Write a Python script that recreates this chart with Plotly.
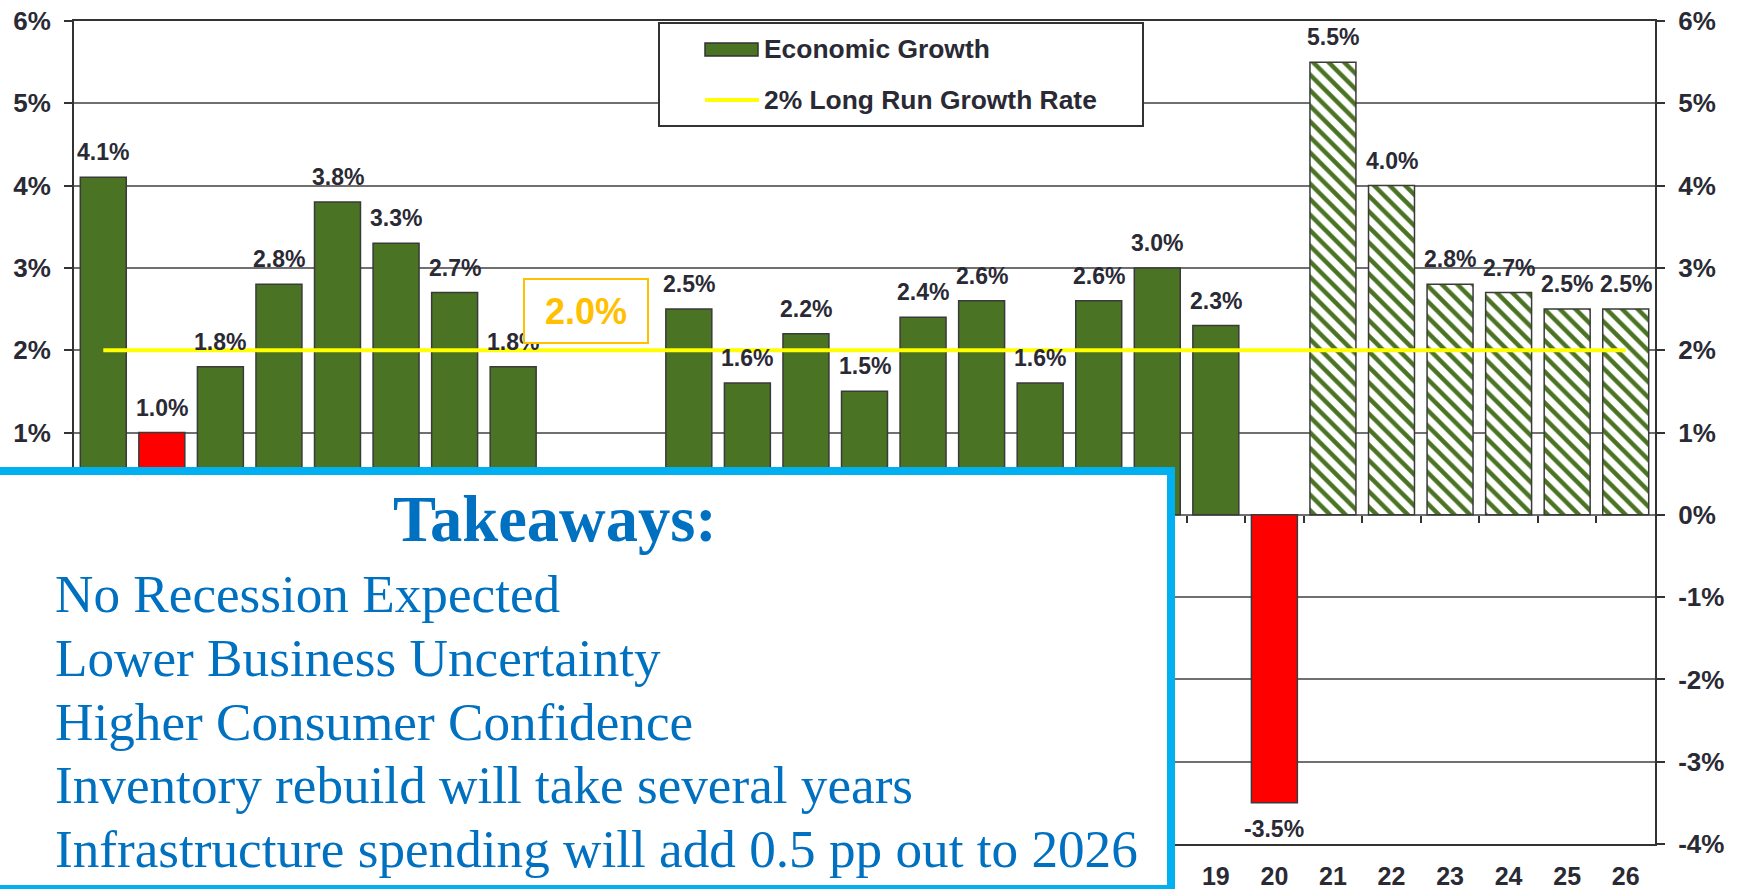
import plotly.graph_objects as go

# ---------------- data ----------------
years = ["00", "01", "02", "03", "04", "05", "06", "07", "08", "09",
         "10", "11", "12", "13", "14", "15", "16", "17", "18", "19",
         "20", "21", "22", "23", "24", "25", "26"]
growth = [4.1, 1.0, 1.8, 2.8, 3.8, 3.3, 2.7, 1.8, -0.1, -2.5,
          2.5, 1.6, 2.2, 1.5, 2.4, 2.6, 1.6, 2.6, 3.0, 2.3,
          -3.5, 5.5, 4.0, 2.8, 2.7, 2.5, 2.5]
recession_years = ["01", "08", "09", "20"]
forecast_years = ["21", "22", "23", "24", "25", "26"]
long_run_x = ["00", "26"]
long_run_y = [2.0, 2.0]
y_ticks = [-4, -3, -2, -1, 0, 1, 2, 3, 4, 5, 6]
y_tick_text = ["-4%", "-3%", "-2%", "-1%", "0%", "1%", "2%", "3%", "4%", "5%", "6%"]
takeaway_title = "Takeaways:"
takeaways = ["No Recession Expected",
             "Lower Business Uncertainty",
             "Higher Consumer Confidence",
             "Inventory rebuild will take several years",
             "Infrastructure spending will add 0.5 pp out to 2026"]

# ---------------- style ----------------
GREEN = "#4a7323"
RED = "#ff0000"
DARK = "#2a2a35"
W_FIG, H_FIG = 1737, 889
L, R, T, B = 74, 1655, 21, 844
PW, PH = R - L, B - T


def px(x):
    return (x - L) / PW


def py(y):
    return (B - y) / PH


act_x, act_y, act_c = [], [], []
fc_x, fc_y = [], []
for yr, v in zip(years, growth):
    if yr in forecast_years:
        fc_x.append(yr)
        fc_y.append(v)
    else:
        act_x.append(yr)
        act_y.append(v)
        act_c.append(RED if yr in recession_years else GREEN)

fig = go.Figure()
fig.add_trace(go.Bar(
    x=act_x, y=act_y, name="Economic Growth",
    marker=dict(color=act_c, line=dict(color="#3a3a3a", width=1.5)),
    showlegend=False,
))
fig.add_trace(go.Bar(
    x=fc_x, y=fc_y, name="Forecast",
    marker=dict(color="white", line=dict(color="#3a3a3a", width=1.5),
                pattern=dict(shape="\\", fgcolor=GREEN, bgcolor="white",
                             size=11, solidity=0.4)),
    showlegend=False,
))
fig.add_trace(go.Scatter(
    x=[years.index(v) for v in long_run_x], y=long_run_y, xaxis="x2", yaxis="y2",
    mode="lines", line=dict(color="#ffff00", width=4),
    name="2% Long Run Growth Rate", showlegend=False,
))

annotations = []
label_font = dict(family="Liberation Sans, Arial", size=23, color=DARK, weight="bold")
for yr, v in zip(years, growth):
    annotations.append(dict(
        x=yr, y=v, xref="x", yref="y", text=f"{v:.1f}%", showarrow=False,
        yanchor="bottom" if v >= 0 else "top", yshift=10 if v >= 0 else -11,
        font=label_font,
    ))

# 2.0% callout
annotations.append(dict(
    x=px(523), y=py(278), xref="paper", yref="paper", xanchor="left", yanchor="top",
    text="2.0%", showarrow=False, width=122, height=62, borderpad=0,
    bgcolor="white", bordercolor="#ffc000", borderwidth=2,
    font=dict(family="Liberation Sans, Arial", size=36, color="#ffc000", weight="bold"),
))

# takeaways box
annotations.append(dict(
    x=px(-20), y=py(467), xref="paper", yref="paper", xanchor="left", yanchor="top",
    text=" ", showarrow=False, width=1179, height=410, borderpad=0,
    bgcolor="white", bordercolor="#00b0f0", borderwidth=8,
))
annotations.append(dict(
    x=px(555), y=py(519), xref="paper", yref="paper", xanchor="center", yanchor="middle",
    text=takeaway_title, showarrow=False,
    font=dict(family="Liberation Serif, Times New Roman, serif", size=64.5,
              color="#0070c0", weight="bold"),
))
for i, line in enumerate(takeaways):
    annotations.append(dict(
        x=px(53), y=py(594.6 + 63.7 * i), xref="paper", yref="paper",
        xanchor="left", yanchor="middle", text=line, showarrow=False,
        font=dict(family="Liberation Serif, Times New Roman, serif", size=53.2,
                  color="#0070c0"),
    ))

# legend (drawn manually)
legend_font = dict(family="Liberation Sans, Arial", size=26.4, color=DARK, weight="bold")
annotations.append(dict(x=px(762), y=py(49), xref="paper", yref="paper",
                        xanchor="left", yanchor="middle", text="Economic Growth",
                        showarrow=False, font=legend_font))
annotations.append(dict(x=px(762), y=py(100), xref="paper", yref="paper",
                        xanchor="left", yanchor="middle", text="2% Long Run Growth Rate",
                        showarrow=False, font=legend_font))
shapes = [
    dict(type="rect", xref="paper", yref="paper", x0=px(659), x1=px(1143),
         y0=py(126), y1=py(23), fillcolor="white", line=dict(color="#333", width=2),
         layer="above"),
    dict(type="rect", xref="paper", yref="paper", x0=px(705), x1=px(758),
         y0=py(56), y1=py(43), fillcolor=GREEN, line=dict(color="#333", width=1.5),
         layer="above"),
    dict(type="line", xref="paper", yref="paper", x0=px(705), x1=px(759),
         y0=py(100), y1=py(100), line=dict(color="#ffff00", width=4), layer="above"),
]

y_tick_font = dict(family="Liberation Sans, Arial", size=26, color=DARK, weight="bold")
x_tick_font = dict(family="Liberation Sans, Arial", size=25, color=DARK, weight="bold")


def y_axis(**extra):
    d = dict(range=[-4, 6], autorange=False, tickmode="array", tickvals=y_ticks,
             ticktext=y_tick_text, ticks="outside", ticklen=8, tickcolor="#333",
             tickwidth=1.5, showline=True, linecolor="#333", linewidth=2,
             tickfont=y_tick_font, zeroline=False, automargin=False,
             ticklabelstandoff=8)
    d.update(extra)
    return d


fig.update_layout(
    template="none",
    width=W_FIG, height=H_FIG,
    margin=dict(l=L, r=W_FIG - R, t=T, b=H_FIG - B, pad=0),
    paper_bgcolor="white", plot_bgcolor="white",
    barmode="overlay", bargap=0.215, showlegend=False,
    xaxis=dict(type="category", categoryorder="array", categoryarray=years,
               range=[-0.5, len(years) - 0.5], autorange=False,
               showline=True, mirror=True, linecolor="#333",
               linewidth=2, ticks="", tickfont=x_tick_font, showgrid=False,
               zeroline=False, automargin=False, ticklabelstandoff=9),
    xaxis2=dict(range=[-0.5, len(years) - 0.5], autorange=False, overlaying="x",
                anchor="free", position=0.4, side="bottom", showline=False,
                showgrid=False, zeroline=False, showticklabels=False,
                tickmode="array", tickvals=[i + 0.5 for i in range(len(years) - 1)],
                ticks="outside", ticklen=7, tickcolor="#333", tickwidth=1.5,
                automargin=False),
    yaxis=y_axis(showgrid=True, gridcolor="#707070", gridwidth=1.5, side="left"),
    yaxis2=y_axis(overlaying="y", side="right", anchor="x", showgrid=False),
    annotations=annotations,
    shapes=shapes,
)

fig.write_html("out.html")
